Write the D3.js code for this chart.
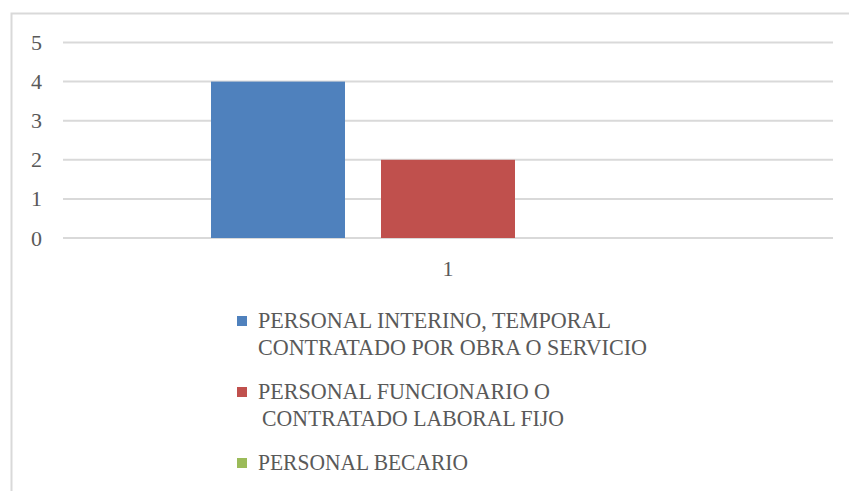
<!DOCTYPE html>
<html>
<head>
<meta charset="utf-8">
<script src="https://cdn.jsdelivr.net/npm/d3@7"></script>
<style>
  body { margin: 0; background: #fff; }
  text { font-family: "Liberation Serif", "DejaVu Serif", serif; fill: #595959; }
</style>
</head>
<body>
<div id="chart"></div>
<script>
// chart data
const categories = ["1"];
const seriesNames = [
    "PERSONAL INTERINO, TEMPORAL CONTRATADO POR OBRA O SERVICIO",
    "PERSONAL FUNCIONARIO O CONTRATADO LABORAL FIJO",
    "PERSONAL BECARIO"
];
const seriesValues = [4, 2, 0];
const legendLines = [
    ["PERSONAL INTERINO, TEMPORAL", "CONTRATADO POR OBRA O SERVICIO"],
    ["PERSONAL FUNCIONARIO O", " CONTRATADO LABORAL FIJO"],
    ["PERSONAL BECARIO"]
];
const yTicks = [0, 1, 2, 3, 4, 5];
const colors = ["#4f81bd", "#c0504d", "#9bbb59"];

const width = 849, height = 491;

const svg = d3.select("#chart")
    .append("svg")
    .attr("width", width)
    .attr("height", height);

// outer frame of the chart area
svg.append("path")
    .attr("d", "M11.5,491 V13.5 H849")
    .attr("fill", "none")
    .attr("stroke", "#d9d9d9")
    .attr("stroke-width", 2);

// scales
const x0 = d3.scaleBand()
    .domain(categories)
    .range([63, 833]);

const x1 = d3.scaleBand()
    .domain(seriesNames)
    .range([148, 622])
    .paddingInner(36 / 170);

const y = d3.scaleLinear()
    .domain([0, 5])
    .range([238, 42.5]);

// gridlines
svg.append("g")
    .selectAll("line")
    .data(yTicks)
    .enter().append("line")
    .attr("x1", 63)
    .attr("x2", 833)
    .attr("y1", d => y(d))
    .attr("y2", d => y(d))
    .attr("stroke", "#d9d9d9")
    .attr("stroke-width", 2);

// y axis labels
const yAxis = svg.append("g")
    .attr("transform", "translate(63,0)")
    .call(d3.axisLeft(y).tickValues(yTicks).tickSize(0).tickPadding(21).tickFormat(d3.format("d")));
yAxis.select(".domain").remove();
yAxis.selectAll("text")
    .attr("font-family", "Liberation Serif, serif")
    .attr("font-size", 22)
    .attr("fill", "#595959");

// x axis label
const xAxis = svg.append("g")
    .attr("transform", "translate(0,238)")
    .call(d3.axisBottom(x0).tickSize(0).tickPadding(22));
xAxis.select(".domain").remove();
xAxis.selectAll("text")
    .attr("font-family", "Liberation Serif, serif")
    .attr("font-size", 22)
    .attr("fill", "#595959");

// bars
const group = svg.selectAll(".grp")
    .data(categories)
    .enter().append("g")
    .attr("class", "grp")
    .attr("transform", d => `translate(${x0(d)},0)`);

group.selectAll("rect")
    .data(seriesNames.map((s, i) => ({ name: s, value: seriesValues[i], color: colors[i] })))
    .enter().append("rect")
    .attr("x", d => x1(d.name))
    .attr("y", d => y(d.value))
    .attr("width", x1.bandwidth())
    .attr("height", d => y(0) - y(d.value))
    .attr("fill", d => d.color);

// legend
const legendTop = [316, 387, 458];
const lineGap = 26.5;
const lineWidths = [[353, 389], [292, 306], [210]];

const legend = svg.append("g");
legendLines.forEach((lines, i) => {
    legend.append("rect")
        .attr("x", 237)
        .attr("y", legendTop[i])
        .attr("width", 10)
        .attr("height", 10)
        .attr("fill", colors[i]);
    lines.forEach((t, j) => {
        const lead = t.startsWith(" ") ? 4 : 0;
        legend.append("text")
            .attr("x", 258 + lead)
            .attr("y", legendTop[i] + 12 + j * lineGap)
            .attr("font-size", 24)
            .attr("textLength", lineWidths[i][j] - lead)
            .attr("lengthAdjust", "spacingAndGlyphs")
            .text(t.trim());
    });
});
</script>
</body>
</html>
